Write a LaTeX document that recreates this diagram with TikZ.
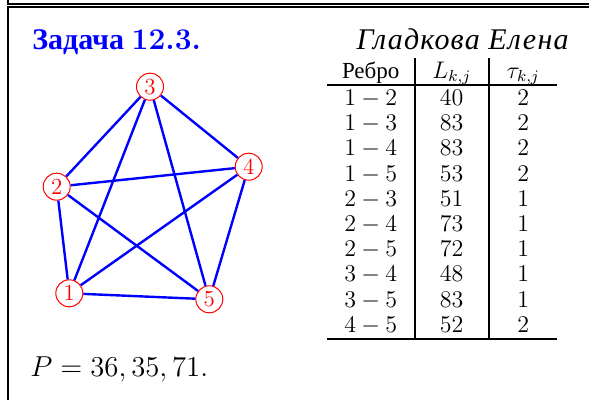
\documentclass[tikz,border=0pt]{standalone}
\usepackage{fontspec}
\newfontfamily\cyrfont{Liberation Serif}
\usetikzlibrary{positioning}

\begin{document}
\begin{tikzpicture}[x=0.5pt, y=-0.5pt,
    vert/.style={circle, draw=red, text=red, line width=0.5pt,
        minimum size=13.5pt, inner sep=0pt, font=\fontsize{11.5}{13}\selectfont},
    edge/.style={blue, line width=1.2pt},
    cell/.style={anchor=base, inner sep=0pt, font=\fontsize{11.5}{13}\selectfont},
    rule/.style={line width=1pt}
]
    \useasboundingbox (0,0) rectangle (589,400);
    % frame
    \draw[rule] (8.3,0) -- (8.3,3.7) -- (589,3.7);
    \draw[rule] (589,7.2) -- (8.3,7.2) -- (8.3,400);

    \node[anchor=base west, inner sep=0pt, text=blue,
        font=\fontsize{15}{18}\selectfont] (title) at (32,50)
        {\cyrfont\bfseries Задача {\rmfamily\bfseries 12.3.}};
    \node[anchor=base east, inner sep=0pt,
        font=\fontsize{15}{18}\selectfont] (author) at (569,50)
        {\cyrfont\itshape\addfontfeature{LetterSpace=4}Гладкова Елена};

    % graph
    \node[vert] (v1) at (69.3,293.3) {1};
    \node[vert] (v2) at (56.7,186.7) {2};
    \node[vert] (v3) at (150,86.7) {3};
    \node[vert] (v4) at (248.7,166.7) {4};
    \node[vert] (v5) at (209.3,299.3) {5};
    \foreach \a/\b in {1/2,1/3,1/4,1/5,2/3,2/4,2/5,3/4,3/5,4/5}
        \draw[edge] (v\a) -- (v\b);

    % table
    \node[cell] (hE) at (370.7,78.3) {\cyrfont Ребро};
    \node[cell] (hL) at (451.7,78.3) {$L_{k,j}$};
    \node[cell] (hT) at (523.3,78.3) {$\tau_{k,j}$};
    \foreach \a/\b/\len/\tw [count=\i] in {1/2/40/2, 1/3/83/2, 1/4/83/2,
        1/5/53/2, 2/3/51/1, 2/4/73/1, 2/5/72/1, 3/4/48/1, 3/5/83/1, 4/5/52/2} {
        \node[cell] (e\i) at (370.7,{105.5+25.2*(\i-1)}) {$\a-\b$};
        \node[cell] (l\i) at (451.7,{105.5+25.2*(\i-1)}) {$\len$};
        \node[cell] (t\i) at (523.3,{105.5+25.2*(\i-1)}) {$\tw$};
    }
    \draw[rule] (327,85) -- (557,85);
    \draw[rule] (327,338.7) -- (557,338.7);
    \draw[rule] (415,58) -- (415,338.7);
    \draw[rule] (489.3,58) -- (489.3,338.7);

    \node[anchor=base west, inner sep=0pt,
        font=\fontsize{14.4}{17}\selectfont] (perm) at (30,377)
        {$P=36,35,71.$};
\end{tikzpicture}
\end{document}
